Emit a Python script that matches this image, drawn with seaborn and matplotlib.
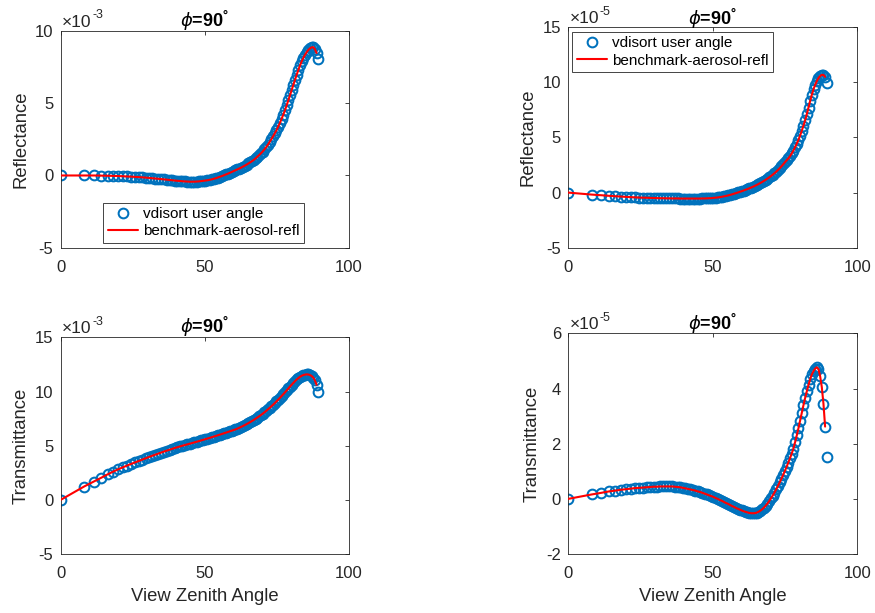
import numpy as np
import matplotlib
matplotlib.use("Agg")
import matplotlib.pyplot as plt
import seaborn as sns
from matplotlib.ticker import FuncFormatter, FixedLocator

# View zenith angles (degrees) of the user angles
ANGLES = [0.00, 8.11, 11.48, 14.07, 16.26, 18.19, 19.95, 21.57, 23.07, 24.49,
          25.84, 27.13, 28.36, 29.54, 30.68, 31.79, 32.86, 33.90, 34.92, 35.90,
          36.87, 37.81, 38.74, 39.65, 40.54, 41.41, 42.27, 43.11, 43.95, 44.77,
          45.57, 46.37, 47.16, 47.93, 48.70, 49.46, 50.21, 50.95, 51.68, 52.41,
          53.13, 53.84, 54.55, 55.25, 55.94, 56.63, 57.32, 58.00, 58.67, 59.34,
          60.00, 60.66, 61.31, 61.97, 62.61, 63.26, 63.90, 64.53, 65.17, 65.80,
          66.42, 67.05, 67.67, 68.28, 68.90, 69.51, 70.12, 70.73, 71.34, 71.94,
          72.54, 73.14, 73.74, 74.34, 74.93, 75.52, 76.11, 76.70, 77.29, 77.88,
          78.46, 79.05, 79.63, 80.21, 80.79, 81.37, 81.95, 82.53, 83.11, 83.68,
          84.26, 84.84, 85.41, 85.99, 86.56, 87.13, 87.71, 88.28, 88.85, 89.43]

# Reflectance, top-left panel (units of 1e-3)
REFL_A = [0.00, 0.00, 0.00, -0.01, -0.02, -0.03, -0.04, -0.05, -0.07, -0.08,
          -0.10, -0.11, -0.13, -0.15, -0.17, -0.19, -0.21, -0.23, -0.25, -0.27,
          -0.29, -0.31, -0.33, -0.35, -0.37, -0.38, -0.40, -0.41, -0.42, -0.43,
          -0.43, -0.43, -0.42, -0.41, -0.39, -0.37, -0.35, -0.33, -0.30, -0.27,
          -0.23, -0.19, -0.14, -0.09, -0.04, 0.01, 0.07, 0.12, 0.18, 0.24,
          0.30, 0.36, 0.42, 0.48, 0.54, 0.61, 0.68, 0.75, 0.83, 0.91,
          0.99, 1.08, 1.18, 1.30, 1.41, 1.53, 1.66, 1.80, 1.96, 2.13,
          2.32, 2.51, 2.71, 2.92, 3.13, 3.38, 3.64, 3.92, 4.21, 4.52,
          4.86, 5.21, 5.56, 5.92, 6.28, 6.63, 6.98, 7.31, 7.62, 7.90,
          8.14, 8.36, 8.54, 8.69, 8.80, 8.87, 8.88, 8.74, 8.48, 8.05]

# Reflectance, top-right panel (units of 1e-5)
REFL_B = [0.00, -0.18, -0.24, -0.29, -0.33, -0.36, -0.39, -0.41, -0.43, -0.45,
          -0.46, -0.47, -0.48, -0.49, -0.50, -0.51, -0.51, -0.52, -0.52, -0.53,
          -0.53, -0.53, -0.54, -0.54, -0.54, -0.54, -0.54, -0.54, -0.54, -0.54,
          -0.54, -0.53, -0.53, -0.52, -0.51, -0.50, -0.48, -0.46, -0.44, -0.41,
          -0.38, -0.34, -0.30, -0.26, -0.21, -0.16, -0.10, -0.05, 0.01, 0.07,
          0.13, 0.19, 0.26, 0.32, 0.39, 0.46, 0.53, 0.61, 0.69, 0.78,
          0.87, 0.96, 1.06, 1.16, 1.27, 1.38, 1.50, 1.63, 1.76, 1.90,
          2.05, 2.21, 2.38, 2.56, 2.75, 2.93, 3.10, 3.30, 3.55, 3.82,
          4.12, 4.44, 4.79, 5.18, 5.62, 6.08, 6.57, 7.12, 7.72, 8.32,
          8.88, 9.37, 9.78, 10.12, 10.40, 10.58, 10.68, 10.68, 10.50, 9.93]

# Transmittance, bottom-left panel (units of 1e-3)
TRANS_A = [0.00, 1.23, 1.69, 2.04, 2.35, 2.60, 2.82, 3.00, 3.17, 3.32,
           3.46, 3.59, 3.72, 3.84, 3.96, 4.07, 4.17, 4.27, 4.37, 4.46,
           4.55, 4.63, 4.71, 4.79, 4.86, 4.93, 5.00, 5.06, 5.12, 5.18,
           5.24, 5.30, 5.36, 5.42, 5.48, 5.54, 5.60, 5.66, 5.72, 5.78,
           5.84, 5.90, 5.96, 6.02, 6.08, 6.14, 6.20, 6.26, 6.32, 6.38,
           6.44, 6.50, 6.57, 6.65, 6.73, 6.81, 6.90, 6.99, 7.08, 7.18,
           7.28, 7.38, 7.49, 7.60, 7.71, 7.83, 7.95, 8.08, 8.21, 8.35,
           8.49, 8.63, 8.78, 8.93, 9.09, 9.25, 9.41, 9.58, 9.75, 9.92,
           10.10, 10.28, 10.46, 10.63, 10.80, 10.96, 11.11, 11.24, 11.36, 11.45,
           11.52, 11.56, 11.58, 11.57, 11.52, 11.43, 11.28, 11.02, 10.62, 9.94]

# Transmittance, bottom-right panel (units of 1e-5)
TRANS_B = [0.00, 0.16, 0.22, 0.27, 0.30, 0.33, 0.35, 0.37, 0.39, 0.40,
           0.41, 0.42, 0.43, 0.44, 0.44, 0.45, 0.45, 0.45, 0.45, 0.45,
           0.44, 0.43, 0.42, 0.40, 0.38, 0.36, 0.34, 0.32, 0.30, 0.27,
           0.25, 0.22, 0.19, 0.16, 0.13, 0.10, 0.07, 0.03, 0.00, -0.04,
           -0.07, -0.11, -0.15, -0.18, -0.22, -0.26, -0.29, -0.33, -0.36, -0.39,
           -0.42, -0.45, -0.47, -0.49, -0.51, -0.52, -0.52, -0.52, -0.50, -0.47,
           -0.43, -0.38, -0.32, -0.25, -0.17, -0.08, 0.02, 0.12, 0.23, 0.35,
           0.47, 0.60, 0.73, 0.87, 1.01, 1.16, 1.31, 1.47, 1.64, 1.82,
           2.05, 2.30, 2.56, 2.84, 3.12, 3.40, 3.66, 3.90, 4.13, 4.34,
           4.51, 4.63, 4.72, 4.77, 4.70, 4.45, 4.05, 3.45, 2.62, 1.51]

X_TICKS = [0, 50, 100]
YTICKS_A = [-5, 0, 5, 10]
YTICKS_B = [-5, 0, 5, 10, 15]
YTICKS_C = [-5, 0, 5, 10, 15]
YTICKS_D = [-2, 0, 2, 4, 6]

TITLE = r"$\phi$=90$^{\mathrm{°}}$"
LABEL_MARK = "vdisort user angle"
LABEL_LINE = "benchmark-aerosol-refl"

BLUE = "#0072BD"
RED = "#FF0000"
DARK = "#262626"

sns.set_style("white")
plt.rcParams.update({
    "font.family": ["Liberation Sans", "DejaVu Sans"],
    "axes.unicode_minus": False,
    "mathtext.fontset": "custom",
    "mathtext.rm": "Liberation Sans:bold",
    "mathtext.it": "DejaVu Sans:italic",
    "mathtext.bf": "Liberation Sans:bold",
    "mathtext.sf": "Liberation Sans",
})

fig = plt.figure(figsize=(8.75, 6.13), dpi=100)
fig.patch.set_facecolor("white")

panels = [
    dict(vals=REFL_A, exp=-3, ticks=YTICKS_A, ylabel="Reflectance", xlabel=None,
         pos=[0.0694, 0.5959, 0.3291, 0.3535], legend=("lower left", (0.147, 0.022)), tpad=3.2),
    dict(vals=REFL_B, exp=-5, ticks=YTICKS_B, ylabel="Reflectance", xlabel=None,
         pos=[0.6495, 0.5959, 0.3303, 0.3596], legend=("upper left", (0.0128, 0.979)), tpad=1.5),
    dict(vals=TRANS_A, exp=-3, ticks=YTICKS_C, ylabel="Transmittance", xlabel="View Zenith Angle",
         pos=[0.0694, 0.0962, 0.3291, 0.3535], legend=None, tpad=3.2),
    dict(vals=TRANS_B, exp=-5, ticks=YTICKS_D, ylabel="Transmittance", xlabel="View Zenith Angle",
         pos=[0.6495, 0.0962, 0.3303, 0.3600], legend=None, tpad=2.2),
]

x = np.array(ANGLES)
for p in panels:
    ax = fig.add_axes(p["pos"])
    scale = 10.0 ** p["exp"]
    y = np.array(p["vals"]) * scale
    sns.lineplot(x=x, y=y, ax=ax, marker="o", linestyle="", color=BLUE,
                 markerfacecolor="none", markeredgecolor=BLUE, markeredgewidth=1.45,
                 markersize=7, estimator=None, sort=False, label=LABEL_MARK, zorder=2)
    sns.lineplot(x=x[:-1], y=y[:-1], ax=ax, color=RED, linewidth=1.5,
                 estimator=None, sort=False, label=LABEL_LINE, zorder=3)
    ax.set_xlim(0, 100)
    ax.set_ylim(p["ticks"][0] * scale, p["ticks"][-1] * scale)
    ax.xaxis.set_major_locator(FixedLocator(X_TICKS))
    ax.yaxis.set_major_locator(FixedLocator([t * scale for t in p["ticks"]]))
    ax.yaxis.set_major_formatter(FuncFormatter(lambda v, pos, s=scale: "%d" % round(v / s)))
    ax.tick_params(direction="in", length=3, width=0.6, top=True, right=True,
                   labelsize=12, colors=DARK)
    ax.tick_params(axis="x", pad=8.5)
    ax.tick_params(axis="y", pad=5.3)
    for s in ax.spines.values():
        s.set_color(DARK)
        s.set_linewidth(0.6)
        s.set_visible(True)
    # exponent label (like MATLAB's axis multiplier)
    t1 = ax.annotate("×10", xy=(0, 1), xycoords="axes fraction", xytext=(1.0, 3.1),
                     textcoords="offset points", ha="left", va="baseline",
                     fontsize=12.5, color=DARK)
    ax.annotate("%d" % p["exp"], xy=(1, 0), xycoords=t1, xytext=(0.3, 8.2),
                textcoords="offset points", ha="left", va="baseline",
                fontsize=9, color=DARK)
    ax.set_ylabel(p["ylabel"], fontsize=13.3, color=DARK, labelpad=4)
    if p["xlabel"]:
        ax.set_xlabel(p["xlabel"], fontsize=13.3, color=DARK, labelpad=5)
    else:
        ax.set_xlabel("")
    ax.set_title(TITLE, fontsize=13, fontweight="bold", color="black", pad=p["tpad"])
    if p["legend"]:
        loc, anchor = p["legend"]
        leg = ax.legend(loc=loc, bbox_to_anchor=anchor, frameon=True, fancybox=False,
                        edgecolor=DARK, framealpha=1, fontsize=11, handlelength=2.0,
                        handletextpad=0.3, borderpad=0.3, labelspacing=0.2,
                        borderaxespad=0)
        leg.get_frame().set_linewidth(0.6)
        for t in leg.get_texts():
            t.set_color("black")
    else:
        lg = ax.get_legend()
        if lg is not None:
            lg.remove()

fig.savefig("out.png", dpi=100, facecolor="white")
